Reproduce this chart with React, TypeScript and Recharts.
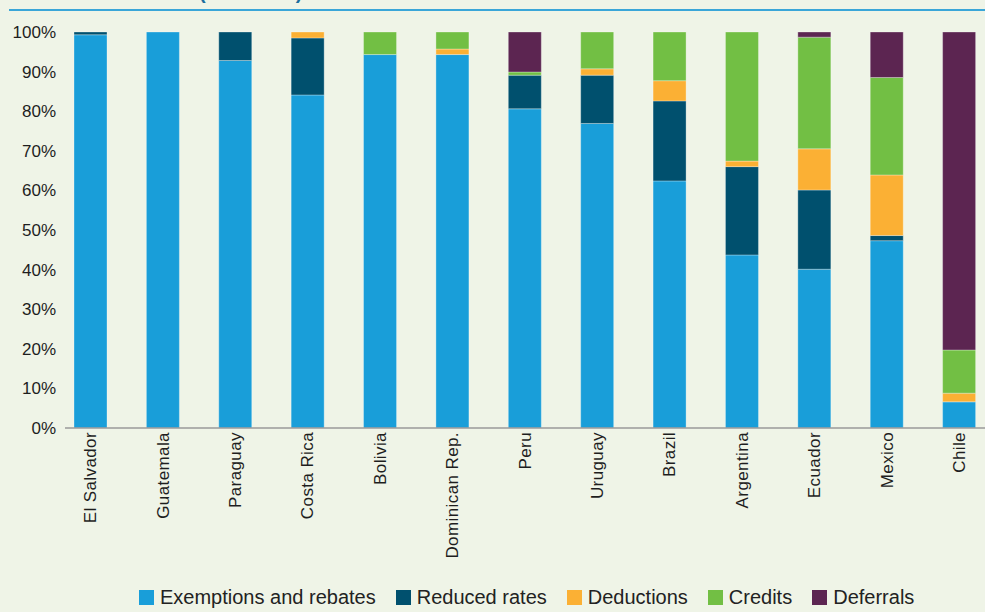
import { BarChart, Bar, XAxis, YAxis } from 'recharts'

const countries = [
  'El Salvador',
  'Guatemala',
  'Paraguay',
  'Costa Rica',
  'Bolivia',
  'Dominican Rep.',
  'Peru',
  'Uruguay',
  'Brazil',
  'Argentina',
  'Ecuador',
  'Mexico',
  'Chile',
]

const exemptions = [99.3, 100, 92.8, 84.1, 94.3, 94.3, 80.6, 76.9, 62.4, 43.7, 40.1, 47.3, 6.6]
const reducedRates = [0.7, 0, 7.2, 14.4, 0, 0, 8.5, 12.2, 20.2, 22.3, 20.0, 1.3, 0]
const deductions = [0, 0, 0, 1.5, 0, 1.4, 0, 1.6, 5.1, 1.4, 10.4, 15.3, 2.2]
const credits = [0, 0, 0, 0, 5.7, 4.3, 0.8, 9.3, 12.3, 32.6, 28.2, 24.6, 10.9]
const deferrals = [0, 0, 0, 0, 0, 0, 10.1, 0, 0, 0, 1.3, 11.5, 80.3]

const yTicks = [0, 10, 20, 30, 40, 50, 60, 70, 80, 90, 100]

const SERIES = [
  { key: 'exemptions', name: 'Exemptions and rebates', color: '#199ed9', values: exemptions },
  { key: 'reduced', name: 'Reduced rates', color: '#00506e', values: reducedRates },
  { key: 'deductions', name: 'Deductions', color: '#fbb034', values: deductions },
  { key: 'credits', name: 'Credits', color: '#72bf44', values: credits },
  { key: 'deferrals', name: 'Deferrals', color: '#5c2551', values: deferrals },
]

const chartData = countries.map((country, i) => {
  const row: Record<string, string | number> = { country }
  SERIES.forEach((s) => {
    row[s.key] = s.values[i]
  })
  return row
})

const FONT = 'Arial, "Liberation Sans", Helvetica, sans-serif'

// rotated country names, reading bottom to top
function CountryTick(props: any) {
  const { x, y, payload } = props
  const top = y - 4
  return (
    <text
      x={x}
      y={top}
      transform={`rotate(-90, ${x}, ${top})`}
      textAnchor="end"
      dy="0.36em"
      fontSize={17}
      letterSpacing={0.4}
      fill="#1e1e1e"
      fontFamily={FONT}
    >
      {payload.value}
    </text>
  )
}

export default function App() {
  return (
    <div
      style={{
        position: 'fixed',
        left: 0,
        top: 0,
        width: 985,
        height: 612,
        overflow: 'hidden',
        background: '#eff4e7',
        fontFamily: FONT,
      }}
    >
      <svg width={985} height={20} style={{ position: 'absolute', left: 0, top: 0 }}>
        <text x={199} y={-1} fontSize={20} fontWeight="bold" fill="#1c6e9e" fontFamily={FONT}>
          (% of total)
        </text>
        <rect x={9} y={9} width={976} height={2} fill="#3aa6d8" />
      </svg>

      <div style={{ position: 'absolute', left: 0, top: 0 }}>
        <BarChart
          width={995}
          height={612}
          data={chartData}
          margin={{ top: 32, right: 0, bottom: 34, left: 0 }}
          barSize={33}
        >
          <XAxis
            dataKey="country"
            interval={0}
            height={150}
            padding={{ left: -11, right: 0 }}
            tickLine={false}
            axisLine={{ stroke: '#9a9a9a', strokeWidth: 1.5 }}
            tick={<CountryTick />}
          />
          <YAxis
            width={65}
            domain={[0, 100]}
            ticks={yTicks}
            tickFormatter={(v: number) => `${v}%`}
            axisLine={false}
            tickLine={false}
            tickSize={6}
            tickMargin={3}
            tick={{ fontSize: 17, fill: '#1e1e1e', fontFamily: FONT }}
          />
          {SERIES.map((s) => (
            <Bar
              key={s.key}
              dataKey={s.key}
              name={s.name}
              stackId="total"
              fill={s.color}
              stroke="#ffffff"
              strokeOpacity={0.3}
              strokeWidth={1}
              isAnimationActive={false}
            />
          ))}
        </BarChart>
      </div>

      <div
        style={{
          position: 'absolute',
          left: 139,
          top: 585,
          height: 24,
          display: 'flex',
          alignItems: 'center',
          gap: 20,
          fontSize: 20,
          lineHeight: '24px',
          color: '#222222',
          whiteSpace: 'nowrap',
        }}
      >
        {SERIES.map((s) => (
          <div key={s.key} style={{ display: 'flex', alignItems: 'center', gap: 6 }}>
            <span style={{ width: 15, height: 15, background: s.color, display: 'inline-block' }} />
            <span>{s.name}</span>
          </div>
        ))}
      </div>
    </div>
  )
}
